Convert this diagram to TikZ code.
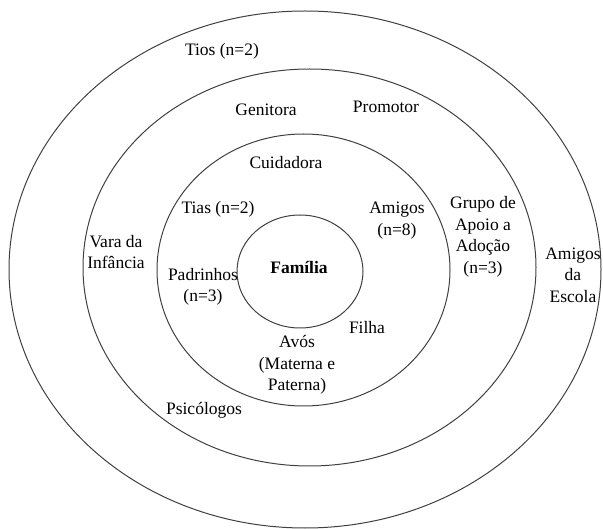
\documentclass[tikz,border=0pt]{standalone}
\usepackage{fontspec}
\setmainfont{Liberation Serif}
\usetikzlibrary{shapes.geometric}
\begin{document}
\begin{tikzpicture}[x=1pt,y=-1pt,
  ring/.style={ellipse,draw=black!75,line width=1pt,inner sep=0pt},
  lbl/.style={align=center,inner sep=0pt,font=\fontsize{17.5}{21.5}\selectfont}]
\useasboundingbox (0,0) rectangle (603,529);
% concentric levels
\node[ring,minimum width=592,minimum height=517] (outer) at (305,269.5) {};
\node[ring,minimum width=453,minimum height=397] (middle) at (309.5,267.5) {};
\node[ring,minimum width=293,minimum height=272] (inner) at (303.5,270) {};
\node[ring,minimum width=126,minimum height=113] (core) at (300,271.5) {};
% labels
\node[lbl,font=\fontsize{17.5}{21.5}\selectfont\bfseries] (familia) at (299,268) {Família};
\node[lbl] (tios) at (222,51) {Tios (n=2)};
\node[lbl] (genitora) at (266,110) {Genitora};
\node[lbl] (promotor) at (386,107) {Promotor};
\node[lbl] (cuidadora) at (286,163) {Cuidadora};
\node[lbl] (tias) at (218,209) {Tias (n=2)};
\node[lbl] (amigos) at (397,220.5) {Amigos\\(n=8)};
\node[lbl] (padrinhos) at (203,287) {Padrinhos\\(n=3)};
\node[lbl] (filha) at (367,328) {Filha};
\node[lbl] (avos) at (297,365) {Avós\\(Materna e\\Paterna)};
\node[lbl] (psicologos) at (204,410) {Psicólogos};
\node[lbl] (vara) at (116,252) {Vara da\\Infância};
\node[lbl] (grupo) at (483,237) {Grupo de\\Apoio a\\Adoção\\(n=3)};
\node[lbl] (escola) at (573,275) {Amigos\\da\\Escola};
\end{tikzpicture}
\end{document}
